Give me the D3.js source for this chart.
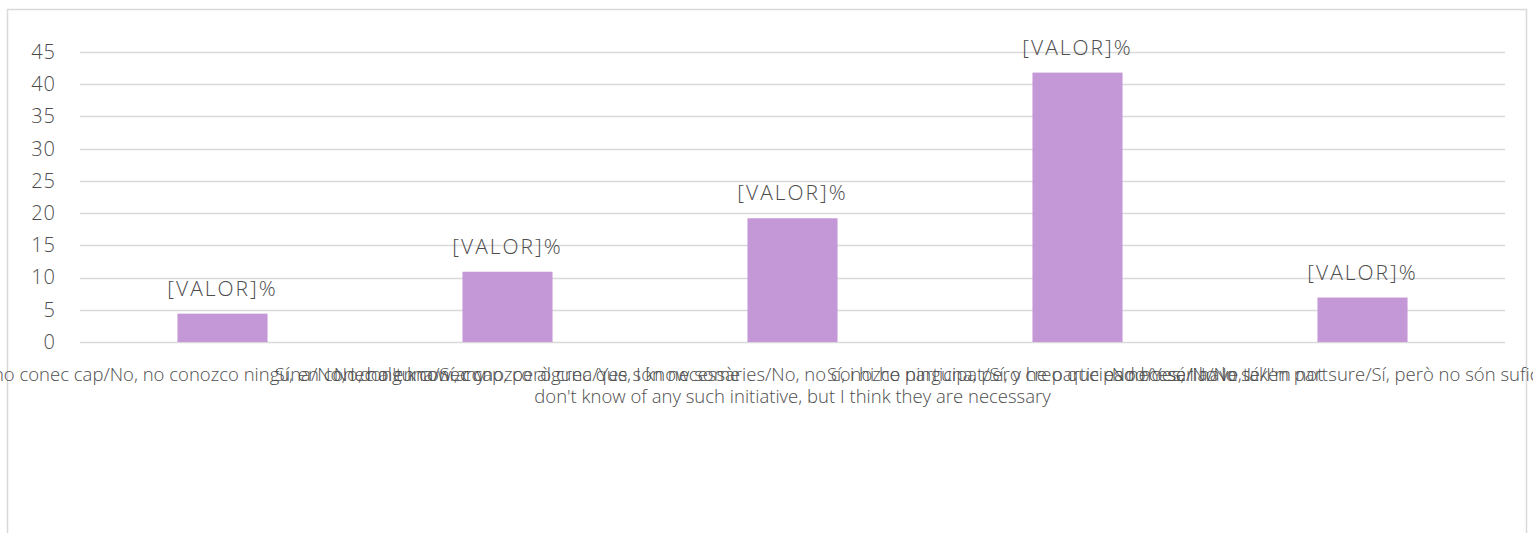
<!DOCTYPE html>
<html><head><meta charset="utf-8">
<script src="https://cdn.jsdelivr.net/npm/d3@7"></script>
<style>
html,body{margin:0;padding:0;background:#fff;}
svg{display:block;}
text{font-family:"Open Sans",sans-serif;fill:#4d4d4d;font-weight:300;}
</style></head>
<body><svg id="c" width="1533" height="533"></svg>
<script>
const categories = [
  "No, no conec cap/No, no conozco ninguna/No, I don't know any",
  "Sí, en conec alguna/Sí, conozco alguna/Yes, I know some",
  "No, no en conec cap, però crec que són necessàries/No, no conozco ninguna, pero creo que es necesaria/No, I|don't know of any such initiative, but I think they are necessary",
  "Sí, i hi he participat/Sí, y he participado/Yes, I have taken part",
  "No ho sé/No lo sé/I'm not sure/Sí, però no són suficients/Yes"
];
const values = [4.4, 10.9, 19.2, 41.8, 6.9];
const dataLabels = ["[VALOR]%", "[VALOR]%", "[VALOR]%", "[VALOR]%", "[VALOR]%"];
const yTicks = [0, 5, 10, 15, 20, 25, 30, 35, 40, 45];

const svg = d3.select("#c");
// chart border
svg.append("rect").attr("x", 7.5).attr("y", 9.5).attr("width", 1519).attr("height", 540)
  .attr("fill", "#fff").attr("stroke", "#D9D9D9").attr("stroke-width", 1.5);

const pL = 80, pR = 1505, pT = 52, pB = 342;
const x = d3.scaleBand().domain(d3.range(categories.length)).range([pL, pR])
  .paddingInner(0.684).paddingOuter(0.342);
const y = d3.scaleLinear().domain([0, 45]).range([pB, pT]);

// gridlines
svg.append("g").selectAll("line").data(yTicks).join("line")
  .attr("x1", pL).attr("x2", pR)
  .attr("y1", d => Math.round(y(d)) + 0.5).attr("y2", d => Math.round(y(d)) + 0.5)
  .attr("stroke", "#D9D9D9").attr("stroke-width", 1.5);

// y axis labels
const yAxis = svg.append("g").attr("transform", `translate(${pL},0)`)
  .call(d3.axisLeft(y).tickValues(yTicks).tickSize(0).tickPadding(24));
yAxis.select(".domain").remove();
yAxis.selectAll("text").style("font-size", "20px").style("fill", "#4d4d4d")
  .style("font-family", "'Open Sans',sans-serif").style("font-weight", 300)
  .attr("letter-spacing", 1);

// bars
svg.append("g").selectAll("rect").data(values).join("rect")
  .attr("x", (d, i) => x(i)).attr("width", x.bandwidth())
  .attr("y", d => y(d)).attr("height", d => y(0) - y(d))
  .attr("fill", "#C497D6");

// data labels
svg.append("g").selectAll("text").data(values).join("text")
  .attr("x", (d, i) => x(i) + x.bandwidth() / 2)
  .attr("y", d => y(d) - 18)
  .attr("text-anchor", "middle").style("font-size", "21px").attr("letter-spacing", 2)
  .text((d, i) => dataLabels[i]);

// x category labels (overlapping, as in the original)
const xl = svg.append("g");
categories.forEach((c, i) => {
  const lines = c.split("|");
  const t = xl.append("text").attr("text-anchor", "middle").style("font-size", "18.5px");
  lines.forEach((ln, j) => {
    t.append("tspan").attr("x", x(i) + x.bandwidth() / 2).attr("y", 381 + j * 22).text(ln);
  });
});
</script></body></html>
